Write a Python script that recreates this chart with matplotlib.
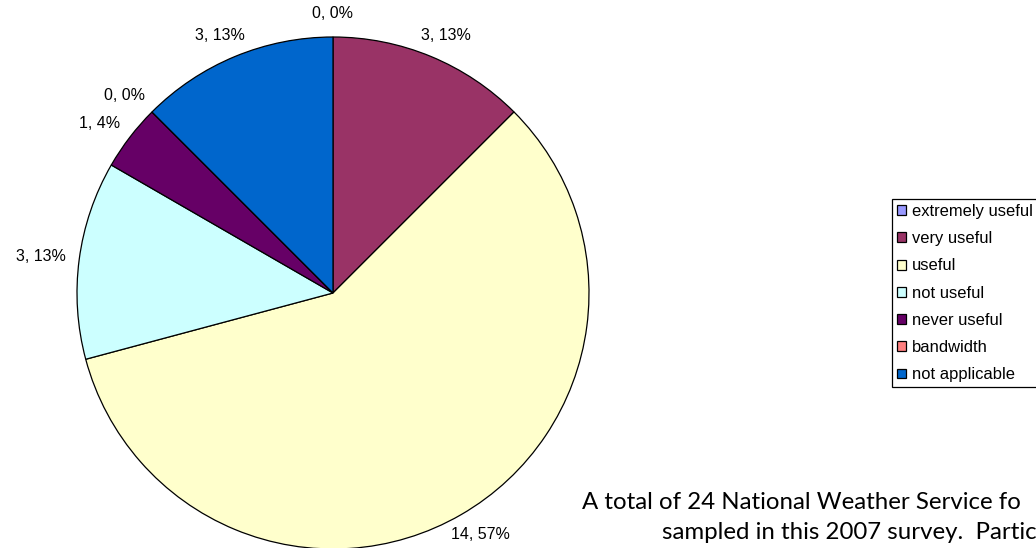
import matplotlib
matplotlib.use('Agg')
import matplotlib.pyplot as plt
import numpy as np

categories = ["extremely useful", "very useful", "useful", "not useful",
              "never useful", "bandwidth", "not applicable"]
counts = [0, 3, 14, 3, 1, 0, 3]
percents = [0, 13, 57, 13, 4, 0, 13]
colors = ["#9999FF", "#993366", "#FFFFCC", "#CCFFFF", "#660066", "#FF8080", "#0066CC"]
caption_lines = ["A total of 24 National Weather Service fo",
                 "sampled in this 2007 survey.  Partic"]

LABEL_FONT = ['Liberation Sans', 'DejaVu Sans']
W, H = 1036, 548
fig = plt.figure(figsize=(W / 100, H / 100), dpi=100)
fig.patch.set_facecolor('white')

cx, cy, r = 333, 293, 256
ax = fig.add_axes([(cx - r) / W, (H - cy - r) / H, 2 * r / W, 2 * r / H])
wedges, _ = ax.pie(counts, colors=colors, startangle=90, counterclock=False,
                   radius=1,
                   wedgeprops=dict(edgecolor='black', linewidth=0.9, clip_on=False))
ax.set_xlim(-1, 1)
ax.set_ylim(-1, 1)
ax.set_aspect('equal')
ax.axis('off')

for w, c, p in zip(wedges, counts, percents):
    mid = np.deg2rad((w.theta1 + w.theta2) / 2)
    ax.text(1.15 * np.cos(mid), 1.09 * np.sin(mid), f"{c}, {p}%", ha='center', va='center',
            fontsize=11.5, family=LABEL_FONT, color='black', clip_on=False)

LEG_FS = 11.9
leg = fig.legend(wedges, categories, loc='upper left',
                 bbox_to_anchor=(892 / W, 1 - 199 / H), borderaxespad=0,
                 prop=dict(family=LABEL_FONT, size=LEG_FS),
                 frameon=True, fancybox=False, shadow=False, framealpha=1,
                 edgecolor='black', handlelength=0.55, handleheight=0.55,
                 handletextpad=0.36, labelspacing=0.74, borderpad=0.3)
leg.get_frame().set_linewidth(0.9)
for h in leg.legend_handles:
    h.set_edgecolor('black')
    h.set_linewidth(0.9)

# caption (clipped at the right edge as in the reference)
cap_font = ['Lato', 'DejaVu Sans']
t1 = fig.text(582 / W, 1 - 509 / H, caption_lines[0], ha='left', va='baseline',
              fontsize=15, family=cap_font)
t2 = fig.text(662 / W, 1 - 539 / H, caption_lines[1], ha='left', va='baseline',
              fontsize=15, family=cap_font)
fig.canvas.draw()
probe = fig.text(0, 0, "A total of 24 National Weather Service", fontsize=15, family=cap_font)
wpx = probe.get_window_extent().width
probe.remove()
fs = 15 * 412 / wpx
t1.set_fontsize(fs)
t2.set_fontsize(fs)

fig.savefig('out.png', dpi=100, facecolor='white')
